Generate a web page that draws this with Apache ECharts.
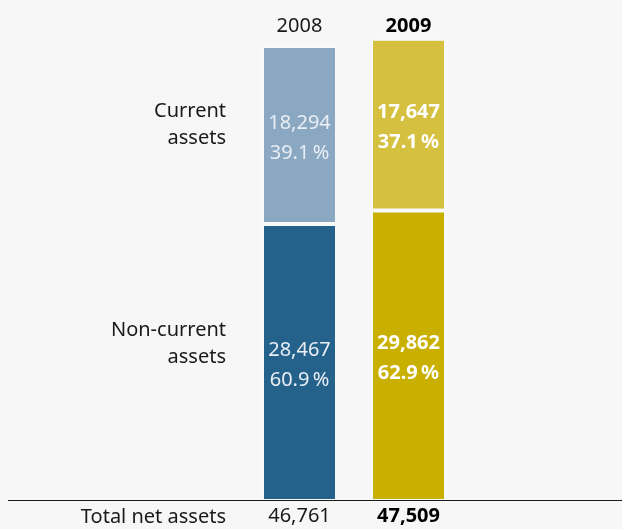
<!DOCTYPE html>
<html>
<head>
<meta charset="utf-8">
<script src="https://cdn.jsdelivr.net/npm/echarts@6/dist/echarts.min.js"></script>
<style>
html,body{margin:0;padding:0;background:#f7f7f7;}
#c{width:622px;height:529px;}
</style>
</head>
<body>
<div id="c"></div>
<script>
const years = ['2008', '2009'];
const nonCurrent = [28467, 29862];
const current = [18294, 17647];
const seriesLabels = ['Non-current\nassets', 'Current\nassets'];
const totalLabel = 'Total net assets';
const colorsNonCurrent = ['#24618b', '#c9b000'];
const colorsCurrent = ['#8ba8c3', '#d5c040'];

const FONT = '"Noto Sans"';
const FS = 20;
const totals = years.map((y, i) => nonCurrent[i] + current[i]);
const fmt = v => v.toLocaleString('en-US');
const pct = (v, i) => (v / totals[i] * 100).toFixed(1) + '\u2009%';

function makeData(vals, cols) {
  return vals.map((v, i) => ({
    value: v,
    itemStyle: { color: cols[i] },
    label: {
      color: i === 1 ? '#ffffff' : '#e9eef4',
      fontWeight: i === 1 ? 'bold' : 'normal'
    }
  }));
}

const labelCfg = {
  show: true,
  position: 'inside',
  offset: [0, 3],
  fontFamily: FONT,
  fontSize: FS,
  lineHeight: 30,
  formatter: p => fmt(p.value) + '\n' + pct(p.value, p.dataIndex)
};

const chart = echarts.init(document.getElementById('c'), null, { renderer: 'canvas' });
chart.setOption({
  backgroundColor: '#f7f7f7',
  animation: false,
  grid: { left: 245, right: 159, top: 34, bottom: 28 },
  xAxis: [
    {
      type: 'category',
      data: years,
      position: 'bottom',
      axisLine: { show: false },
      axisTick: { show: false },
      axisLabel: {
        interval: 0,
        hideOverlap: false,
        margin: 5,
        fontFamily: FONT,
        fontSize: FS,
        color: '#1a1a1a',
        formatter: (v, i) => i === 1 ? '{b|' + fmt(totals[i]) + '}' : fmt(totals[i]),
        rich: { b: { fontWeight: 'bold', fontFamily: FONT, fontSize: FS, color: '#000' } }
      }
    },
    {
      type: 'category',
      data: years,
      position: 'top',
      axisLine: { show: false },
      axisTick: { show: false },
      axisLabel: {
        interval: 0,
        margin: -2,
        fontFamily: FONT,
        fontSize: FS,
        color: '#1a1a1a',
        formatter: (v, i) => i === 1 ? '{b|' + v + '}' : v,
        rich: { b: { fontWeight: 'bold', fontFamily: FONT, fontSize: FS, color: '#000' } }
      }
    }
  ],
  yAxis: { type: 'value', min: 0, max: 48000, show: false, splitLine: { show: false } },
  series: [
    {
      name: seriesLabels[0], type: 'bar', stack: 'a', xAxisIndex: 0,
      barWidth: 75,
      itemStyle: { borderColor: '#f9f9f9', borderWidth: 2 },
      label: labelCfg,
      data: makeData(nonCurrent, colorsNonCurrent)
    },
    {
      name: seriesLabels[1], type: 'bar', stack: 'a', xAxisIndex: 0,
      barWidth: 75,
      itemStyle: { borderColor: '#f9f9f9', borderWidth: 2 },
      label: labelCfg,
      data: makeData(current, colorsCurrent)
    }
  ],
  graphic: [
    { type: 'line', shape: { x1: 8, y1: 500.5, x2: 622, y2: 500.5 }, style: { stroke: '#1a1a1a', lineWidth: 1 }, z: 100 },
    { type: 'text', x: 226, y: 125, style: { text: seriesLabels[1], align: 'right', verticalAlign: 'middle', font: FS + 'px ' + FONT, lineHeight: 27, fill: '#1a1a1a' } },
    { type: 'text', x: 226, y: 344, style: { text: seriesLabels[0], align: 'right', verticalAlign: 'middle', font: FS + 'px ' + FONT, lineHeight: 27, fill: '#1a1a1a' } },
    { type: 'text', x: 226, y: 517, style: { text: totalLabel, align: 'right', verticalAlign: 'middle', font: FS + 'px ' + FONT, fill: '#1a1a1a' } }
  ]
});
</script>
</body>
</html>
